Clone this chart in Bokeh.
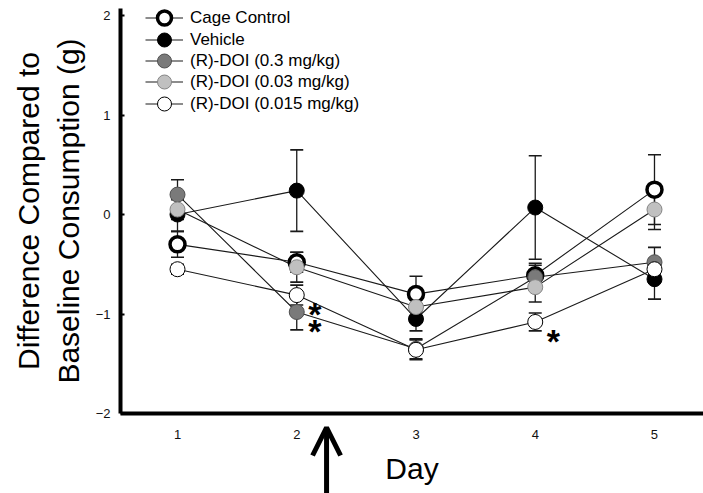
from bokeh.plotting import figure
from bokeh.layouts import column
from bokeh.models import (ColumnDataSource, Whisker, TeeHead, Legend, LegendItem,
                          Arrow, OpenHead, Label, FixedTicker, Range1d)
from bokeh.core.properties import value
from bokeh.embed import file_html
from bokeh.resources import INLINE

# ---------------- data ----------------
days = [1, 2, 3, 4, 5]
y_ticks = [-2, -1, 0, 1, 2]

cage_control = [-0.30, -0.48, -0.80, -0.61, 0.25]
cage_control_se = [0.13, 0.10, 0.18, 0.12, 0.35]
vehicle = [0.00, 0.24, -1.05, 0.07, -0.65]
vehicle_se = [0.17, 0.41, 0.12, 0.52, 0.20]
doi_03 = [0.20, -0.98, -1.35, -0.63, -0.48]
doi_03_se = [0.15, 0.18, 0.10, 0.12, 0.15]
doi_003 = [0.05, -0.53, -0.93, -0.73, 0.05]
doi_003_se = [0.10, 0.15, 0.10, 0.15, 0.20]
doi_0015 = [-0.55, -0.81, -1.36, -1.08, -0.55]
doi_0015_se = [0.05, 0.10, 0.10, 0.09, 0.10]

sig_days = [2, 2, 4]
sig_values = [-0.81, -0.98, -1.08]
treatment_day = 2.25

names = ["Cage Control", "Vehicle", "(R)-DOI (0.3 mg/kg)",
         "(R)-DOI (0.03 mg/kg)", "(R)-DOI (0.015 mg/kg)"]
means = [cage_control, vehicle, doi_03, doi_003, doi_0015]
errors = [cage_control_se, vehicle_se, doi_03_se, doi_003_se, doi_0015_se]
styles = [
    dict(fill_color="white", line_color="black", line_width=3.5),
    dict(fill_color="black", line_color="black", line_width=1),
    dict(fill_color="#7a7a7a", line_color="#505050", line_width=1),
    dict(fill_color="#c0c0c0", line_color="#858585", line_width=1),
    dict(fill_color="white", line_color="black", line_width=1),
]

FONT = "Liberation Sans"

x_range = Range1d(0.522, 5.411)
p = figure(width=703, height=442,
           x_range=x_range, y_range=Range1d(-2, 2.0704),
           output_backend="svg", toolbar_location=None,
           min_border_left=120, min_border_right=0,
           min_border_top=8, min_border_bottom=29)
p.background_fill_color = "white"
p.border_fill_color = "white"
p.outline_line_color = None
p.grid.visible = False

sources = [ColumnDataSource(dict(day=days, mean=m,
                                 lower=[a - b for a, b in zip(m, e)],
                                 upper=[a + b for a, b in zip(m, e)]))
           for m, e in zip(means, errors)]

line_renderers = []
for src in sources:
    line_renderers.append(p.line("day", "mean", source=src,
                                 line_color="#1a1a1a", line_width=1.1))

for src in sources:
    w = Whisker(base="day", lower="lower", upper="upper", source=src,
                line_color="#1a1a1a", line_width=1.3,
                upper_head=TeeHead(size=13, line_color="#1a1a1a", line_width=1.6),
                lower_head=TeeHead(size=13, line_color="#1a1a1a", line_width=1.6))
    p.add_layout(w)

marker_renderers = []
for src, st in zip(sources, styles):
    marker_renderers.append(p.scatter("day", "mean", source=src, size=15,
                                      marker="circle", **st))

# significance asterisks
p.text(x=sig_days, y=sig_values, text=["*"] * len(sig_days),
       x_offset=18, y_offset=19, text_align="center", text_baseline="alphabetic",
       text_font=value(FONT), text_font_style="bold", text_font_size="34px",
       text_color="black")

# axes
p.xaxis.ticker = FixedTicker(ticks=days)
p.yaxis.ticker = FixedTicker(ticks=y_ticks)
for ax in (p.xaxis, p.yaxis):
    ax.axis_line_width = 4
    ax.axis_line_color = "black"
    ax.minor_tick_line_color = None
    ax.major_label_text_font = FONT
    ax.major_label_text_font_size = "13px"
    ax.major_label_text_color = "#111111"
    ax.major_label_standoff = 10
p.xaxis.major_tick_line_color = None
p.yaxis.major_tick_in = 4
p.yaxis.major_tick_out = 0
p.yaxis.major_tick_line_width = 2
p.yaxis.axis_label = "Difference Compared to\nBaseline Consumption (g)"
p.yaxis.axis_label_standoff = 8
p.yaxis.axis_label_text_font = FONT
p.yaxis.axis_label_text_font_size = "30px"
p.yaxis.axis_label_text_font_style = "normal"
p.yaxis.axis_label_text_color = "black"

# legend: one single-row legend per entry so rows can sit closer than the glyph box
for i, (n, lr, mr) in enumerate(zip(names, line_renderers, marker_renderers)):
    lg = Legend(items=[LegendItem(label=n, renderers=[lr, mr])],
                location=(25, int(round(377.5 - 21.3 * i))), orientation="vertical",
                border_line_color=None, background_fill_alpha=0,
                padding=0, spacing=0, margin=0,
                glyph_width=38, glyph_height=35, label_height=35,
                label_standoff=7, label_text_font=FONT,
                label_text_font_size="17px", label_text_color="black")
    p.add_layout(lg)

# strip under the x axis: treatment arrow and the "Day" axis title
p2 = figure(width=703, height=72, x_range=x_range, y_range=Range1d(0, 72 / 66),
            output_backend="svg", toolbar_location=None,
            min_border_left=120, min_border_right=0,
            min_border_top=0, min_border_bottom=0, margin=(-21, 0, 0, 0))
p2.axis.visible = False
p2.grid.visible = False
p2.outline_line_color = None
p2.background_fill_alpha = 0
p2.border_fill_alpha = 0
p2.add_layout(Arrow(end=OpenHead(size=28, line_width=5, line_color="black"),
                    x_start=treatment_day, y_start=0, x_end=treatment_day, y_end=1,
                    line_width=5, line_color="black"))
p2.add_layout(Label(x=(x_range.start + x_range.end) / 2, y=25 / 66, text="Day",
                    text_align="center", text_baseline="middle",
                    text_font=FONT, text_font_size="30px", text_color="black"))

layout = column(p, p2, spacing=0)
open("out.html", "w").write(file_html(layout, INLINE))
